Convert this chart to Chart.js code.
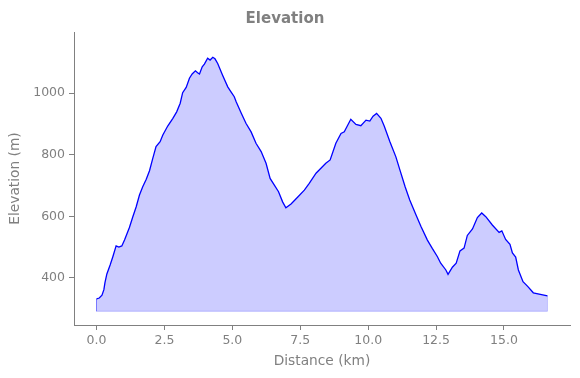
<!DOCTYPE html>
<html>
<head>
<meta charset="utf-8">
<script src="https://cdn.jsdelivr.net/npm/chart.js@4"></script>
<style>
  html, body { margin: 0; padding: 0; background: #fff; }
  #wrap { width: 580px; height: 378px; }
</style>
</head>
<body>
<div id="wrap"><canvas id="c" width="580" height="378"></canvas></div>
<script>
const distanceKm = [0.00,0.10,0.20,0.27,0.31,0.38,0.50,0.60,0.72,0.82,0.93,1.03,1.21,1.33,1.46,1.58,1.70,1.83,1.95,2.07,2.19,2.34,2.44,2.62,2.81,2.95,3.08,3.17,3.30,3.42,3.52,3.64,3.72,3.79,3.89,3.97,4.09,4.18,4.28,4.36,4.46,4.64,4.83,4.95,5.07,5.14,5.32,5.50,5.69,5.87,6.06,6.24,6.39,6.54,6.70,6.85,6.97,7.16,7.40,7.65,7.83,8.08,8.44,8.60,8.81,9.00,9.12,9.36,9.55,9.73,9.92,10.06,10.18,10.31,10.47,10.59,10.80,11.02,11.17,11.36,11.53,11.75,11.94,12.18,12.36,12.55,12.67,12.86,12.94,13.10,13.24,13.38,13.53,13.65,13.84,14.02,14.18,14.33,14.57,14.82,14.92,15.06,15.22,15.31,15.43,15.53,15.70,15.88,16.08,16.60];
const elevationM = [332,335,344,362,385,413,442,469,504,500,504,523,564,597,631,669,696,720,748,788,826,842,864,893,918,939,967,1001,1018,1048,1062,1072,1066,1062,1085,1094,1113,1107,1116,1111,1096,1058,1020,1004,988,972,936,902,874,837,810,772,723,702,680,647,628,640,662,685,707,740,772,783,837,869,874,915,898,894,912,909,925,934,918,893,842,793,750,696,653,607,568,523,496,469,448,426,412,435,448,488,497,538,559,596,611,599,572,548,553,525,509,481,468,426,388,372,352,342];
const xTicks = [0.0, 2.5, 5.0, 7.5, 10.0, 12.5, 15.0];
const yTicks = [400, 600, 800, 1000];
const fillBase = 292;

const profile = distanceKm.map((d, i) => ({ x: d, y: elevationM[i] }));
const last = distanceKm.length - 1;
const baseEdge = [
  { x: distanceKm[0], y: elevationM[0] },
  { x: distanceKm[0], y: fillBase },
  { x: distanceKm[last], y: fillBase },
  { x: distanceKm[last], y: elevationM[last] }
];

const GRAY = '#808080';
const FONT = "'DejaVu Sans', sans-serif";

new Chart(document.getElementById('c'), {
  type: 'line',
  data: {
    datasets: [
      {
        data: baseEdge,
        borderColor: 'rgba(0,0,255,0.22)',
        borderWidth: 1,
        pointRadius: 0,
        fill: false,
        tension: 0
      },
      {
        data: profile,
        borderColor: '#0000ff',
        borderWidth: 1.3,
        backgroundColor: 'rgba(0,0,255,0.2)',
        pointRadius: 0,
        fill: { value: fillBase },
        tension: 0
      }
    ]
  },
  options: {
    responsive: false,
    animation: false,
    layout: { padding: { left: 0, right: 10, top: 0, bottom: 0 } },
    plugins: {
      legend: { display: false },
      tooltip: { enabled: false },
      title: {
        display: true,
        text: 'Elevation',
        color: GRAY,
        font: { family: FONT, size: 15, weight: 'bold', lineHeight: 1.2 },
        padding: { top: 10, bottom: 4 }
      }
    },
    scales: {
      x: {
        type: 'linear',
        min: -0.83,
        max: 17.43,
        afterFit: s => { s.height = 53; },
        afterBuildTicks: s => { s.ticks = xTicks.map(v => ({ value: v })); },
        ticks: {
          color: GRAY,
          font: { family: FONT, size: 12.5 },
          padding: 3,
          maxRotation: 0,
          callback: v => Number(v).toFixed(1)
        },
        grid: { drawOnChartArea: false, drawTicks: true, tickLength: 5, color: GRAY },
        border: { display: true, color: GRAY, width: 1 },
        title: {
          display: true,
          text: 'Distance (km)',
          color: GRAY,
          font: { family: FONT, size: 13.75, lineHeight: 1.2 },
          padding: { top: 0, bottom: 8.5 }
        }
      },
      y: {
        type: 'linear',
        min: 247.5,
        max: 1198,
        afterFit: s => { s.width = 74; },
        afterBuildTicks: s => { s.ticks = yTicks.map(v => ({ value: v })); },
        ticks: {
          color: GRAY,
          font: { family: FONT, size: 12.5 },
          padding: 4,
          callback: v => String(v)
        },
        grid: { drawOnChartArea: false, drawTicks: true, tickLength: 5, color: GRAY },
        border: { display: true, color: GRAY, width: 1 },
        title: {
          display: true,
          text: 'Elevation (m)',
          color: GRAY,
          font: { family: FONT, size: 13.75, lineHeight: 1.2 },
          padding: { top: 7, bottom: 0 }
        }
      }
    }
  }
});
</script>
</body>
</html>
